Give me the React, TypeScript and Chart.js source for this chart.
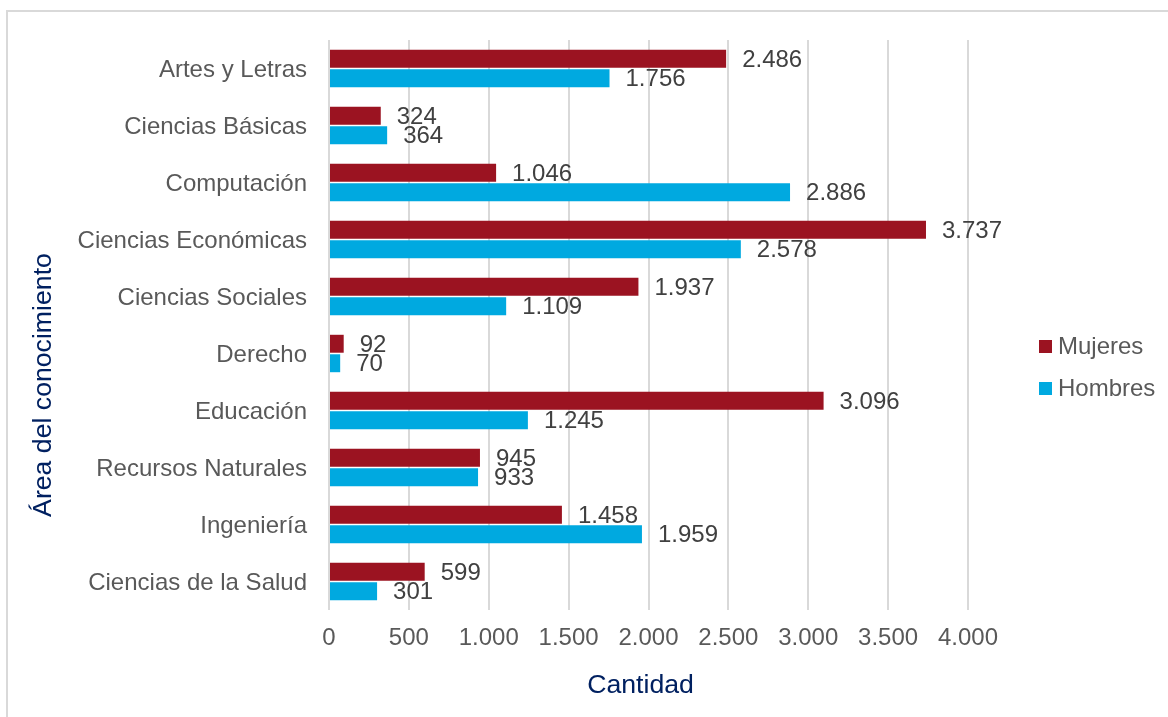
import React, { useEffect, useRef } from "react";
import { Chart, registerables } from "chart.js";

Chart.register(...registerables);

const categories = [
  "Artes y Letras",
  "Ciencias Básicas",
  "Computación",
  "Ciencias Económicas",
  "Ciencias Sociales",
  "Derecho",
  "Educación",
  "Recursos Naturales",
  "Ingeniería",
  "Ciencias de la Salud",
];
const mujeres = [2486, 324, 1046, 3737, 1937, 92, 3096, 945, 1458, 599];
const hombres = [1756, 364, 2886, 2578, 1109, 70, 1245, 933, 1959, 301];
const seriesNames = ["Mujeres", "Hombres"];
const seriesColors = ["#9B1321", "#00A9E0"];
const xTitle = "Cantidad";
const yTitle = "Área del conocimiento";
const xMin = 0;
const xMax = 4000;
const xStep = 500;

const FONT = "'Liberation Sans', Arial, Helvetica, sans-serif";

function fmt(v: number): string {
  const s = Math.round(v).toString();
  return s.replace(/\B(?=(\d{3})+(?!\d))/g, ".");
}

const valueLabels = {
  id: "valueLabels",
  afterDatasetsDraw(chart: any) {
    const ctx = chart.ctx;
    ctx.save();
    ctx.font = `24px ${FONT}`;
    ctx.fillStyle = "#404040";
    ctx.textAlign = "left";
    ctx.textBaseline = "middle";
    chart.data.datasets.forEach((ds: any, di: number) => {
      const meta = chart.getDatasetMeta(di);
      meta.data.forEach((el: any, i: number) => {
        ctx.fillText(fmt(ds.data[i]), el.x + 16, el.y + 1.5);
      });
    });
    ctx.restore();
  },
};

const extras = {
  id: "extras",
  afterDraw(chart: any) {
    const ctx = chart.ctx;
    const area = chart.chartArea;
    ctx.save();
    // axis titles
    ctx.fillStyle = "#002060";
    ctx.font = `26.67px ${FONT}`;
    ctx.textAlign = "center";
    ctx.textBaseline = "middle";
    ctx.fillText(xTitle, 640.5, 686);
    ctx.translate(44, 385);
    ctx.rotate(-Math.PI / 2);
    ctx.fillText(yTitle, 0, 0);
    ctx.restore();

    // legend
    ctx.save();
    ctx.font = `24px ${FONT}`;
    ctx.textAlign = "left";
    ctx.textBaseline = "middle";
    const lx = area.right + 71;
    const gap = 42;
    seriesNames.forEach((name, i) => {
      const cy = area.top + 306.5 + i * gap;
      ctx.fillStyle = seriesColors[i];
      ctx.fillRect(lx, cy - 6.5, 13, 13);
      ctx.fillStyle = "#595959";
      ctx.fillText(name, lx + 19, cy + 0.5);
    });
    ctx.restore();
  },
};

export default function App() {
  const ref = useRef<HTMLCanvasElement | null>(null);

  useEffect(() => {
    if (!ref.current) return;
    Chart.defaults.font.family = FONT;
    const chart = new Chart(ref.current, {
      type: "bar",
      data: {
        labels: categories,
        datasets: [
          {
            label: seriesNames[0],
            data: mujeres,
            backgroundColor: seriesColors[0],
            categoryPercentage: 0.684,
            barPercentage: 0.92,
          },
          {
            label: seriesNames[1],
            data: hombres,
            backgroundColor: seriesColors[1],
            categoryPercentage: 0.684,
            barPercentage: 0.92,
          },
        ],
      },
      options: {
        indexAxis: "y",
        responsive: false,
        animation: false,
        maintainAspectRatio: false,
        layout: { padding: { top: 40, left: 0, right: 200, bottom: 0 } },
        plugins: {
          legend: { display: false },
          tooltip: { enabled: false },
          title: { display: false },
        },
        scales: {
          x: {
            min: xMin,
            max: xMax,
            grid: { color: "#d9d9d9", lineWidth: 2, drawTicks: false },
            border: { display: false },
            ticks: {
              stepSize: xStep,
              padding: 14,
              color: "#595959",
              font: { size: 24, family: FONT },
              callback: (v: any) => fmt(Number(v)),
            },
            afterFit: (scale: any) => {
              scale.height = 107;
            },
          },
          y: {
            grid: { display: false, drawTicks: false },
            border: { display: false },
            ticks: {
              padding: 22,
              labelOffset: 2,
              color: "#595959",
              font: { size: 24, family: FONT },
              autoSkip: false,
            },
            afterFit: (scale: any) => {
              scale.width = 329;
            },
          },
        },
      },
      plugins: [valueLabels, extras],
    });
    return () => chart.destroy();
  }, []);

  return (
    <div
      style={{
        position: "absolute",
        left: 0,
        top: 0,
        width: 1168,
        height: 717,
        overflow: "hidden",
        background: "#ffffff",
      }}
    >
      <div
        style={{
          position: "absolute",
          left: 6,
          top: 10,
          width: 1300,
          height: 900,
          border: "2px solid #d9d9d9",
          boxSizing: "border-box",
        }}
      />
      <canvas
        ref={ref}
        width={1168}
        height={717}
        style={{ position: "absolute", left: 0, top: 0, width: 1168, height: 717 }}
      />
    </div>
  );
}
